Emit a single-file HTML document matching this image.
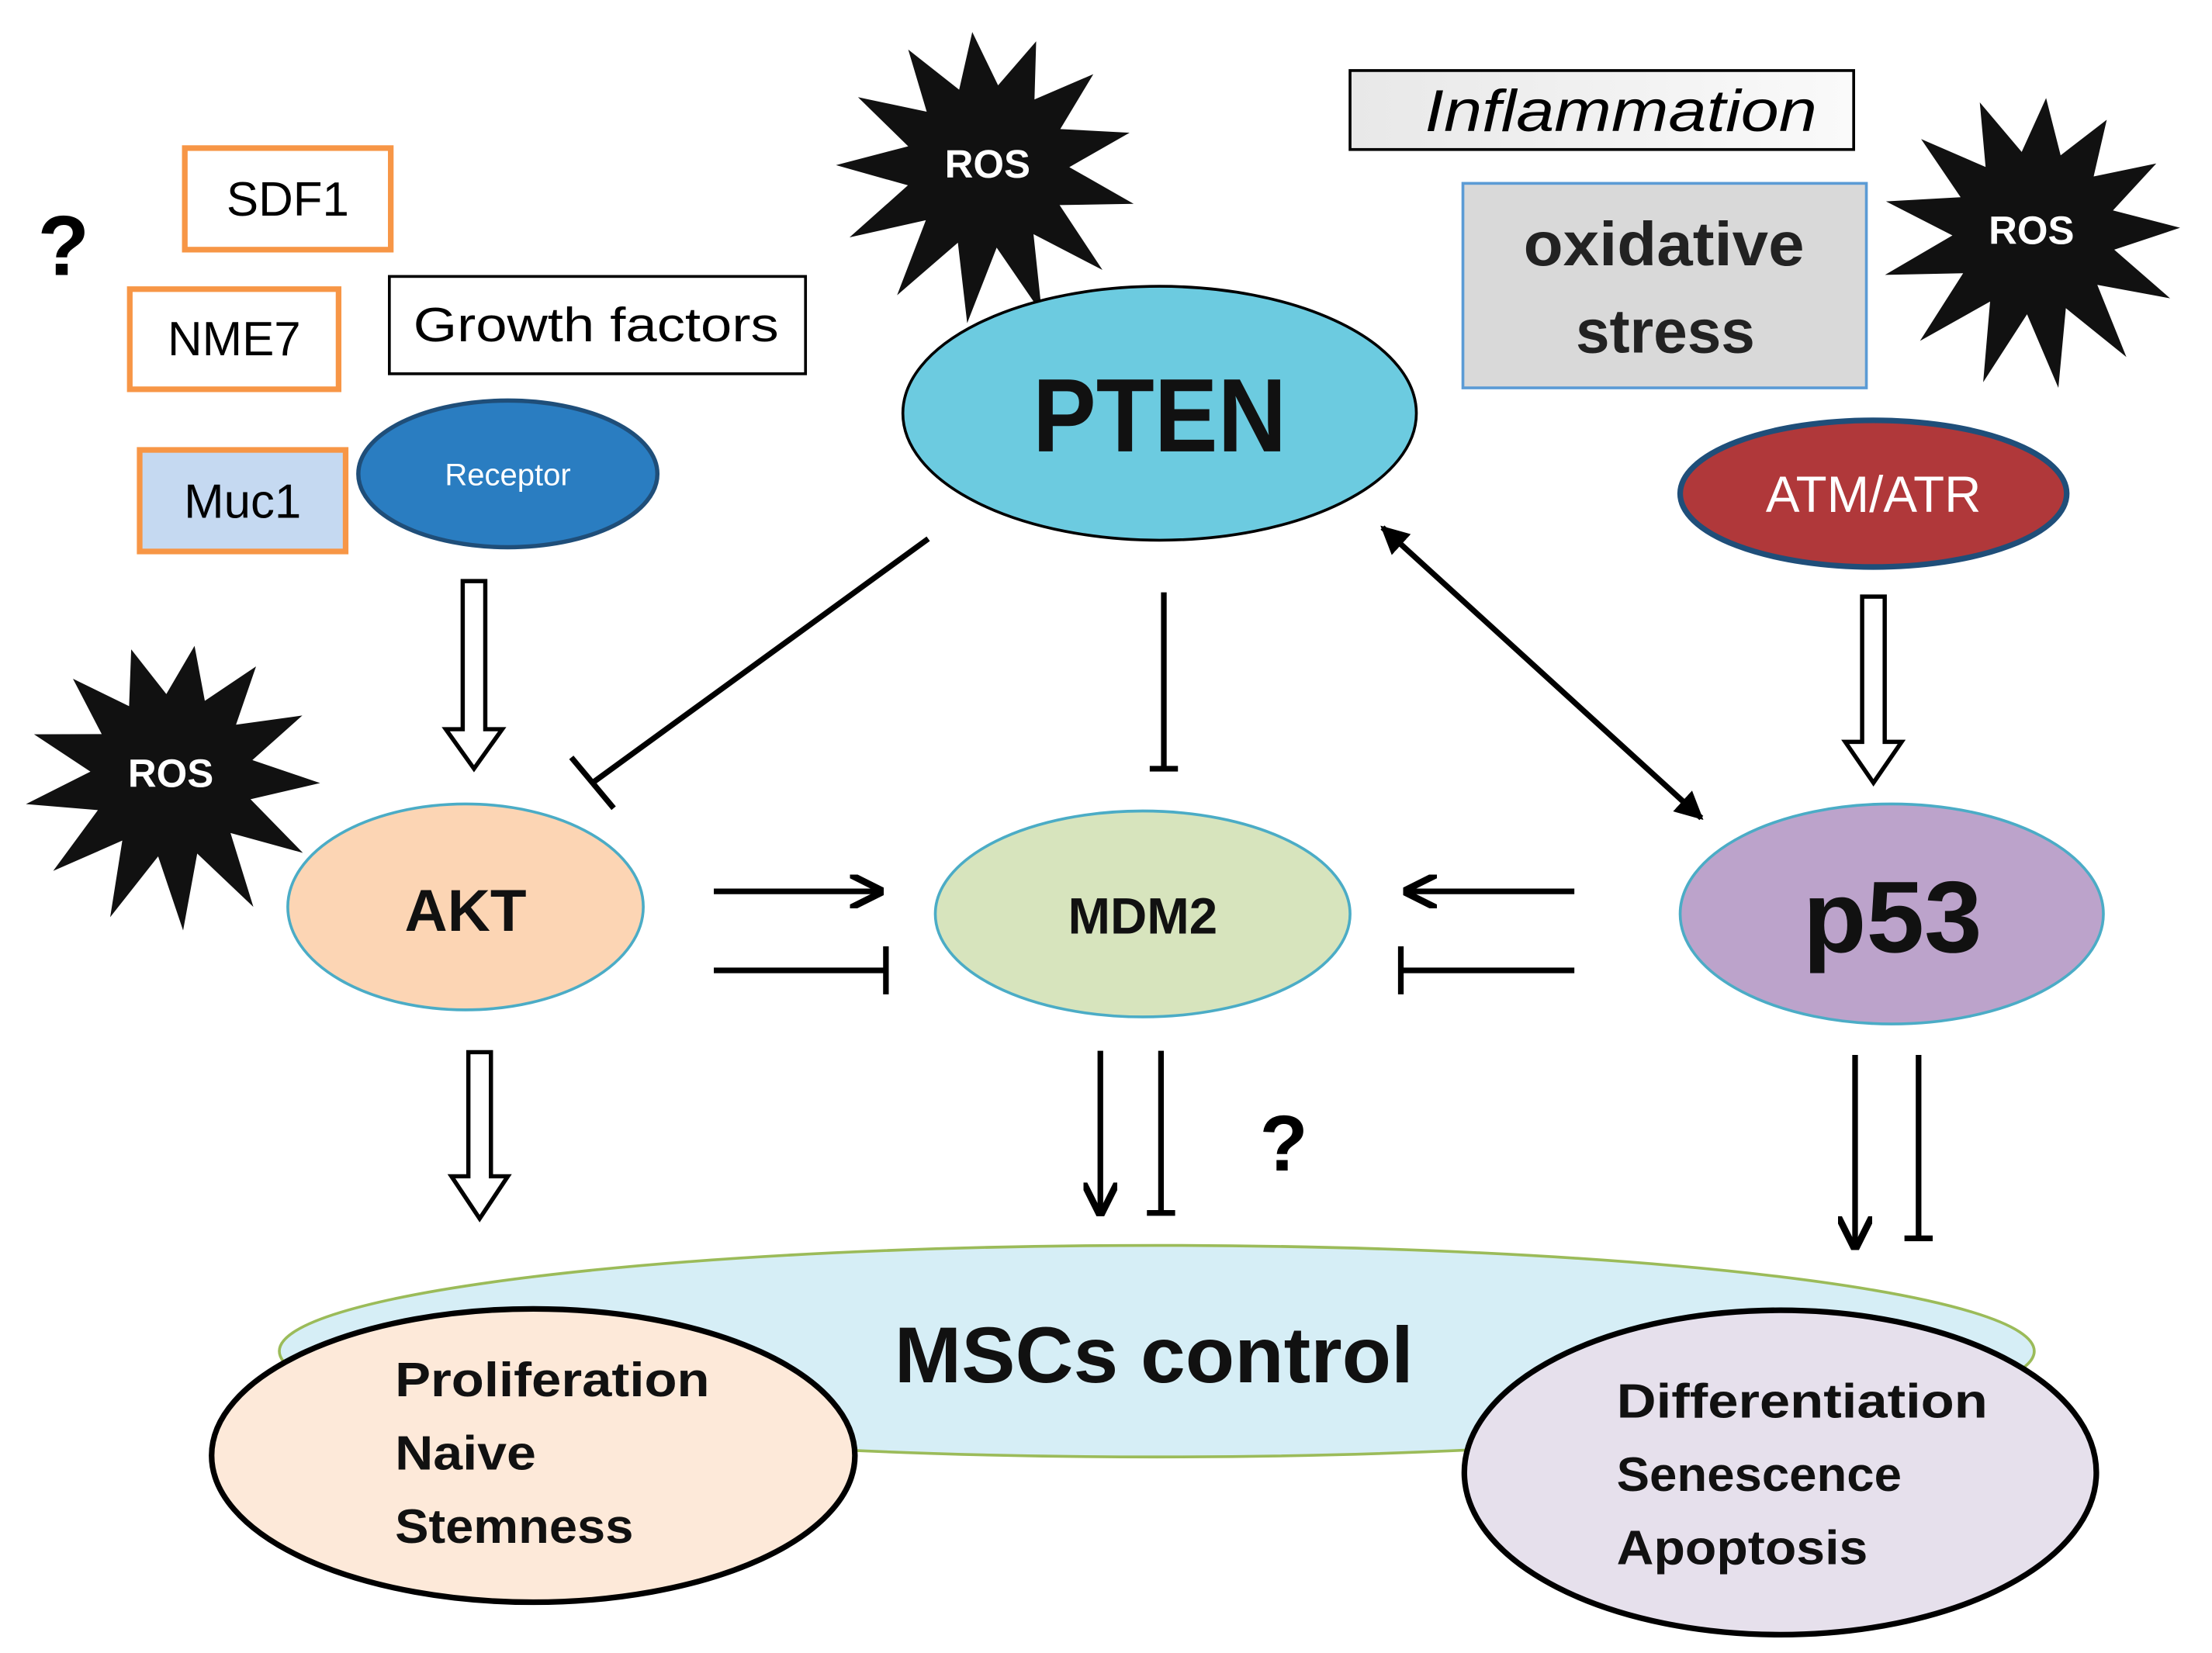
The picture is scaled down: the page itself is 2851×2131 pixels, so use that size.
<!DOCTYPE html>
<html><head><meta charset="utf-8"><style>
html,body{margin:0;padding:0;background:#fff}
svg{display:block}
text{font-family:"Liberation Sans",sans-serif}
</style></head><body>
<svg id="s" width="2851" height="2131" viewBox="0 0 1568 1172" xmlns="http://www.w3.org/2000/svg">
<defs>
<marker id="ah" viewBox="0 0 10 10" refX="9" refY="5" markerWidth="6" markerHeight="6" orient="auto-start-reverse"><path d="M0,0 L10,5 L0,10" fill="none" stroke="#000" stroke-width="2"/></marker>
<marker id="ahf" viewBox="0 0 10 10" refX="9" refY="5" markerWidth="5" markerHeight="5" orient="auto-start-reverse"><path d="M0,0 L10,5 L0,10 z" fill="#000"/></marker>
<linearGradient id="ig" x1="0" x2="1"><stop offset="0" stop-color="#e8e8e8"/><stop offset="1" stop-color="#fafafa"/></linearGradient>
</defs>
<ellipse cx="820" cy="958" rx="622" ry="75" fill="#d6eef6" stroke="#9bbb59" stroke-width="2"/>
<text x="634" y="980" font-size="56" font-weight="bold" textLength="368" lengthAdjust="spacingAndGlyphs" fill="#111">MSCs control</text>
<ellipse cx="378" cy="1032" rx="228" ry="104" fill="#fde9d9" stroke="#000" stroke-width="4"/>
<g font-size="34" font-weight="bold" fill="#111"><text x="280" y="990" textLength="223" lengthAdjust="spacingAndGlyphs">Proliferation</text><text x="280" y="1042" textLength="100" lengthAdjust="spacingAndGlyphs">Naive</text><text x="280" y="1094" textLength="169" lengthAdjust="spacingAndGlyphs">Stemness</text></g>
<ellipse cx="1262" cy="1044" rx="224" ry="115" fill="#e6e0ec" stroke="#000" stroke-width="4"/>
<g font-size="34" font-weight="bold" fill="#111"><text x="1146" y="1005" textLength="263" lengthAdjust="spacingAndGlyphs">Differentiation</text><text x="1146" y="1057" textLength="202" lengthAdjust="spacingAndGlyphs">Senescence</text><text x="1146" y="1109" textLength="178" lengthAdjust="spacingAndGlyphs">Apoptosis</text></g>

<text x="45" y="195" font-size="60" font-weight="bold" text-anchor="middle">?</text>
<text x="910" y="830" font-size="56" font-weight="bold" text-anchor="middle">?</text>

<rect x="131" y="105" width="146" height="72" fill="#fff" stroke="#f79646" stroke-width="4"/>
<text x="204" y="153" font-size="34" text-anchor="middle">SDF1</text>
<rect x="92" y="205" width="148" height="71" fill="#fff" stroke="#f79646" stroke-width="4"/>
<text x="166" y="252" font-size="34" text-anchor="middle">NME7</text>
<rect x="276" y="196" width="295" height="69" fill="#fff" stroke="#000" stroke-width="2"/>
<text x="293" y="242" font-size="34" textLength="259" lengthAdjust="spacingAndGlyphs">Growth factors</text>
<rect x="99" y="319" width="146" height="72" fill="#c5d9f1" stroke="#f79646" stroke-width="4"/>
<text x="172" y="367" font-size="34" text-anchor="middle">Muc1</text>
<ellipse cx="360" cy="336" rx="106" ry="52" fill="#2a7dc1" stroke="#1f4e79" stroke-width="3"/>
<text x="360" y="344" font-size="22" fill="#fff" text-anchor="middle">Receptor</text>

<rect x="957" y="50" width="357" height="56" fill="url(#ig)" stroke="#000" stroke-width="2"/>
<text x="1010" y="93" font-size="42" font-style="italic" textLength="278" lengthAdjust="spacingAndGlyphs">Inflammation</text>
<rect x="1037" y="130" width="286" height="145" fill="#d9d9d9" stroke="#5b9bd5" stroke-width="2"/>
<text x="1080" y="188" font-size="44" font-weight="bold" fill="#222" textLength="199" lengthAdjust="spacingAndGlyphs">oxidative</text>
<text x="1117" y="250" font-size="44" font-weight="bold" fill="#222" textLength="127" lengthAdjust="spacingAndGlyphs">stress</text>

<g id="stars"></g>
<text x="700" y="126" font-size="28" font-weight="bold" fill="#fff" text-anchor="middle">ROS</text>
<text x="1440" y="173" font-size="28" font-weight="bold" fill="#fff" text-anchor="middle">ROS</text>
<text x="121" y="558" font-size="28" font-weight="bold" fill="#fff" text-anchor="middle">ROS</text>

<ellipse cx="822" cy="293" rx="182" ry="90" fill="#6ccbe0" stroke="#000" stroke-width="2"/>
<text x="732" y="320" font-size="74" font-weight="bold" textLength="180" lengthAdjust="spacingAndGlyphs" fill="#111">PTEN</text>
<ellipse cx="1328" cy="350" rx="137" ry="52" fill="#b0383a" stroke="#1f4e79" stroke-width="4"/>
<text x="1328" y="363" font-size="36" fill="#fff" text-anchor="middle">ATM/ATR</text>

<ellipse cx="330" cy="643" rx="126" ry="73" fill="#fcd5b4" stroke="#4bacc6" stroke-width="2"/>
<text x="330" y="660" font-size="42" font-weight="bold" text-anchor="middle" fill="#111">AKT</text>
<ellipse cx="810" cy="648" rx="147" ry="73" fill="#d7e4bd" stroke="#4bacc6" stroke-width="2"/>
<text x="810" y="662" font-size="36" font-weight="bold" text-anchor="middle" fill="#111">MDM2</text>
<ellipse cx="1341" cy="648" rx="150" ry="78" fill="#bca3cb" stroke="#4bacc6" stroke-width="2"/>
<text x="1278" y="675" font-size="72" font-weight="bold" textLength="127" lengthAdjust="spacingAndGlyphs" fill="#111">p53</text>

<g fill="#fff" stroke="#000" stroke-width="3">
<path d="M328,412 h16 v105 h12 l-20,28 l-20,-28 h12 z"/>
<path d="M332,746 h16 v88 h12 l-20,30 l-20,-30 h12 z"/>
<path d="M1320,423 h16 v103 h12 l-20,29 l-20,-29 h12 z"/>
</g>
<g stroke="#000" stroke-width="4" fill="none">
<line x1="658" y1="382" x2="420" y2="555"/><line x1="405" y1="537" x2="435" y2="573"/>
<line x1="825" y1="420" x2="825" y2="545"/><line x1="815" y1="545" x2="835" y2="545"/>
<line x1="980" y1="374" x2="1206" y2="580" marker-start="url(#ahf)" marker-end="url(#ahf)"/>
<line x1="506" y1="632" x2="624" y2="632" marker-end="url(#ah)"/>
<line x1="506" y1="688" x2="628" y2="688"/><line x1="628" y1="671" x2="628" y2="705"/>
<line x1="1116" y1="632" x2="997" y2="632" marker-end="url(#ah)"/>
<line x1="1116" y1="688" x2="993" y2="688"/><line x1="993" y1="671" x2="993" y2="705"/>
<line x1="780" y1="745" x2="780" y2="860" marker-end="url(#ah)"/>
<line x1="823" y1="745" x2="823" y2="860"/><line x1="813" y1="860" x2="833" y2="860"/>
<line x1="1315" y1="748" x2="1315" y2="884" marker-end="url(#ah)"/>
<line x1="1360" y1="748" x2="1360" y2="878"/><line x1="1350" y1="878" x2="1370" y2="878"/>
</g>
</svg>
<script>
(function(){
var g=document.getElementById('stars');
function star(cx,cy,R,r,n,rot){var p=[];for(var i=0;i<2*n;i++){var a=rot+Math.PI*i/n;var rr=(i%2?r:R)*(i%2?1:(0.85+0.15*Math.abs(Math.sin(i*1.7))));p.push((cx+rr*Math.cos(a)).toFixed(1)+','+(cy+rr*Math.sin(a)).toFixed(1));}
var e=document.createElementNS('http://www.w3.org/2000/svg','polygon');e.setAttribute('points',p.join(' '));e.setAttribute('fill','#111');g.appendChild(e);}
star(700,118,112,58,13,-1.2);
star(1442,165,112,58,13,-1.0);
star(122,550,110,58,13,-1.4);
})();
</script>
</body></html>
